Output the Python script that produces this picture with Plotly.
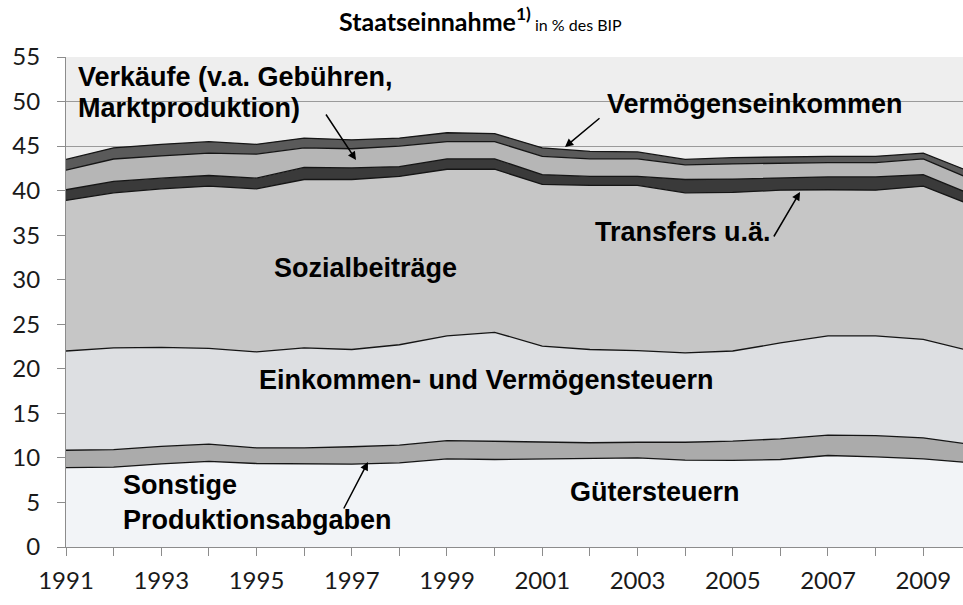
import plotly.graph_objects as go

# ---------------- data ----------------
years = list(range(1991, 2011))

guetersteuern = [8.90, 8.96, 9.33, 9.60, 9.37, 9.30, 9.30, 9.45, 9.90, 9.82,
                 9.90, 10.00, 10.00, 9.75, 9.73, 9.82, 10.27, 10.12, 9.90, 9.45]
sonstige_prod = [1.96, 1.98, 1.97, 1.94, 1.76, 1.83, 1.95, 1.98, 2.05, 2.02,
                 1.86, 1.70, 1.76, 2.01, 2.15, 2.32, 2.28, 2.38, 2.35, 2.05]
einkommen_verm = [11.14, 11.41, 11.10, 10.76, 10.77, 11.22, 10.92, 11.27, 11.75, 12.26,
                  10.79, 10.47, 10.29, 10.04, 10.12, 10.76, 11.15, 11.20, 11.05, 10.50]
sozialbeitraege = [16.90, 17.40, 17.80, 18.20, 18.30, 18.90, 19.08, 18.90, 18.70, 18.30,
                   18.15, 18.43, 18.55, 17.95, 17.80, 17.15, 16.40, 16.35, 17.20, 16.40]
transfers = [1.20, 1.30, 1.20, 1.20, 1.20, 1.35, 1.30, 1.10, 1.17, 1.17,
             1.10, 1.00, 1.00, 1.50, 1.50, 1.35, 1.45, 1.50, 1.30, 1.20]
verkaeufe = [2.20, 2.50, 2.50, 2.50, 2.70, 2.20, 2.15, 2.30, 1.93, 1.93,
             2.05, 1.97, 1.97, 1.65, 1.70, 1.70, 1.60, 1.60, 1.77, 1.70]
vermoegenseinkommen = [1.20, 1.25, 1.30, 1.30, 1.10, 1.10, 1.00, 0.90, 1.00, 0.90,
                       0.95, 0.83, 0.78, 0.60, 0.70, 0.70, 0.70, 0.70, 0.63, 0.80]

series = [
    ("Gütersteuern", guetersteuern, "#f2f4f7"),
    ("Sonstige Produktionsabgaben", sonstige_prod, "#ababab"),
    ("Einkommen- und Vermögensteuern", einkommen_verm, "#dddfe2"),
    ("Sozialbeiträge", sozialbeitraege, "#c6c6c6"),
    ("Transfers u.ä.", transfers, "#3a3a3a"),
    ("Verkäufe", verkaeufe, "#b6b6b6"),
    ("Vermögenseinkommen", vermoegenseinkommen, "#5a5a5a"),
]

y_ticks = list(range(0, 56, 5))

# ---------------- layout geometry ----------------
W, H = 963, 605
ML, MR, MT, MB = 66, 0, 57, 58
X0, X1 = 1991, 2009.835
Y0, Y1 = 0, 55
PW, PH = W - ML - MR, H - MT - MB


def px2x(px):
    return X0 + (px - ML) / PW * (X1 - X0)


def py2y(py):
    return Y1 - (py - MT) / PH * (Y1 - Y0)


fig = go.Figure()
for name, vals, col in series:
    fig.add_trace(go.Scatter(
        x=years, y=vals, name=name, mode="lines", stackgroup="one",
        line=dict(color="#151515", width=1.3), fillcolor=col,
        hoverinfo="skip",
    ))

ann_font = dict(family="Liberation Sans, Arial, sans-serif", size=27, color="#000000")
labels = [
    ("Verkäufe (v.a. Gebühren,", 76, 77, "left"),
    ("Marktproduktion)", 76, 108, "left"),
    ("Vermögenseinkommen", 605, 104, "left"),
    ("Transfers u.ä.", 593, 232, "left"),
    ("Sozialbeiträge", 272, 268, "left"),
    ("Einkommen- und Vermögensteuern", 257, 380, "left"),
    ("Sonstige", 121, 485, "left"),
    ("Produktionsabgaben", 121, 520, "left"),
    ("Gütersteuern", 568, 492, "left"),
]
annotations = []
for txt, px, py, anc in labels:
    annotations.append(dict(
        text="<b>" + txt + "</b>", x=px2x(px), y=py2y(py), xref="x", yref="y",
        xanchor=anc, yanchor="middle", showarrow=False, font=ann_font,
    ))

arrows = [
    ((356, 160), (325, 113)),
    ((565, 147), (601, 117)),
    ((800, 192), (773, 238)),
    ((368, 462), (343, 510)),
]
for (hx, hy), (tx, ty) in arrows:
    annotations.append(dict(
        text="", x=px2x(hx), y=py2y(hy), xref="x", yref="y",
        ax=tx - hx, ay=ty - hy, showarrow=True, arrowhead=2, arrowsize=1.1,
        arrowwidth=1.5, arrowcolor="#000000", standoff=0,
    ))

annotations.append(dict(
    text="<b>Staatseinnahme<sup>1)</sup></b><span style='font-size:16px'> in % des BIP</span>",
    x=(480 - ML) / PW, y=1 + (MT - 20) / PH, xref="paper", yref="paper", showarrow=False,
    font=dict(family="Lato, sans-serif", size=25, color="#000000"),
    xanchor="center", yanchor="middle",
))

fig.update_layout(
    width=W, height=H,
    margin=dict(l=ML, r=MR, t=MT, b=MB, autoexpand=False),
    paper_bgcolor="#ffffff", plot_bgcolor="#eeeeee",
    showlegend=False,
    annotations=annotations,
    xaxis=dict(
        range=[X0, X1], tickmode="linear", tick0=1991, dtick=2,
        ticks="outside", ticklen=8, tickcolor="#8c8c8c", tickwidth=1,
        minor=dict(dtick=1, ticks="outside", ticklen=8, tickcolor="#8c8c8c"),
        showgrid=False, zeroline=False, showline=True, linecolor="#8c8c8c", linewidth=1,
        tickfont=dict(family="Lato, sans-serif", size=24, color="#1a1a1a"),
        ticklabelstandoff=4, automargin=False,
    ),
    yaxis=dict(
        range=[Y0, Y1], tickmode="array", tickvals=y_ticks,
        ticks="outside", ticklen=8, tickcolor="#8c8c8c",
        showgrid=True, gridcolor="#9a9a9a", gridwidth=1.2,
        zeroline=False, showline=True, linecolor="#8c8c8c", linewidth=1,
        tickfont=dict(family="Lato, sans-serif", size=24, color="#1a1a1a"),
        ticklabelstandoff=12, automargin=False,
    ),
)

fig.write_html("out.html", config={"displayModeBar": False},
               post_script="document.body.style.margin='0px';")
